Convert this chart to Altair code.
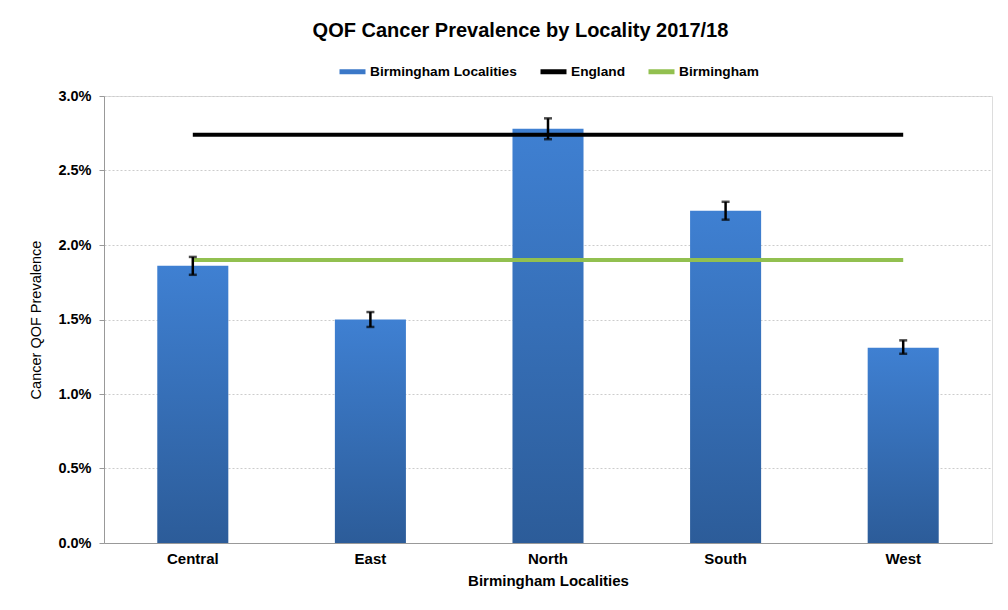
import altair as alt
import pandas as pd

localities = ["Central", "East", "North", "South", "West"]
prevalence = [0.0186, 0.0150, 0.0278, 0.0223, 0.0131]
ci_low = [0.0180, 0.0145, 0.0271, 0.0217, 0.0127]
ci_high = [0.0192, 0.0155, 0.0285, 0.0229, 0.0136]
england_value = 0.0274
birmingham_value = 0.0190
series_names = ["Birmingham Localities", "England", "Birmingham"]
series_colors = ["#3b78c8", "#000000", "#92c050"]
y_ticks = [0, 0.005, 0.01, 0.015, 0.02, 0.025, 0.03]

FONT = "Liberation Sans"

bars_df = pd.DataFrame({"Locality": localities, "Prevalence": prevalence,
                        "Low": ci_low, "High": ci_high})
lines_df = pd.DataFrame({
    "Locality": localities * 2,
    "Value": [england_value] * len(localities) + [birmingham_value] * len(localities),
    "Series": ["England"] * len(localities) + ["Birmingham"] * len(localities),
})

x_enc = alt.X("Locality:N", sort=localities,
              scale=alt.Scale(paddingInner=0.6, paddingOuter=0.3),
              axis=alt.Axis(title="Birmingham Localities", labelAngle=0,
                            labelFont=FONT, labelFontSize=15, labelFontWeight="bold",
                            labelColor="black", labelPadding=8,
                            titleFont=FONT, titleFontSize=15, titleFontWeight="bold",
                            titleColor="black", titlePadding=7,
                            domainColor="#999999", ticks=False))
y_scale = alt.Scale(domain=[0, 0.03])

gradient = alt.LinearGradient(
    gradient="linear",
    stops=[alt.GradientStop(color="#3f80d2", offset=0),
           alt.GradientStop(color="#2c5c99", offset=1)],
    x1=0, x2=0, y1=0, y2=1)

bars = alt.Chart(bars_df).mark_bar(color=gradient).encode(
    x=x_enc,
    y=alt.Y("Prevalence:Q", scale=y_scale,
            axis=alt.Axis(title="Cancer QOF Prevalence", format=".1%", values=y_ticks,
                          labelFont=FONT, labelFontSize=14.5, labelFontWeight="bold",
                          labelColor="black", labelPadding=8,
                          titleFont=FONT, titleFontSize=14.5, titleFontWeight="normal",
                          titleColor="black", titlePadding=14,
                          domainColor="#999999", tickColor="#999999", tickSize=5,
                          grid=True, gridColor="#cccccc", gridDash=[2, 2])),
)

lines = alt.Chart(lines_df).mark_line(strokeWidth=4).encode(
    x=alt.X("Locality:N", sort=localities),
    y=alt.Y("Value:Q", scale=y_scale),
    color=alt.Color("Series:N",
                    scale=alt.Scale(domain=series_names, range=series_colors),
                    legend=alt.Legend(title=None, orient="none", direction="horizontal",
                                      legendX=233, legendY=-40,
                                      symbolType="stroke", symbolStrokeWidth=5,
                                      symbolSize=676, labelFont=FONT, labelFontSize=13.7,
                                      labelFontWeight="bold", labelColor="black",
                                      labelOffset=2, columnPadding=13)),
    detail="Series:N",
)

err_rule = alt.Chart(bars_df).mark_rule(color="black", strokeWidth=2.5).encode(
    x=alt.X("Locality:N", sort=localities),
    y=alt.Y("Low:Q", scale=y_scale),
    y2="High:Q",
)
err_low = alt.Chart(bars_df).mark_tick(color="black", size=8, thickness=2.5).encode(
    x=alt.X("Locality:N", sort=localities),
    y=alt.Y("Low:Q", scale=y_scale),
)
err_high = alt.Chart(bars_df).mark_tick(color="black", size=8, thickness=2.5).encode(
    x=alt.X("Locality:N", sort=localities),
    y=alt.Y("High:Q", scale=y_scale),
)

chart = alt.layer(bars, lines, err_rule, err_low, err_high).properties(
    width=888, height=447,
    padding={"left": 20, "top": 13, "right": 5, "bottom": 5},
    title=alt.TitleParams("QOF Cancer Prevalence by Locality 2017/18",
                          font=FONT, fontSize=20, fontWeight="bold",
                          color="black", anchor="middle", frame="bounds",
                          offset=15, dx=10),
).configure_view(stroke=None).configure(background="white")

chart.save("out.html", embed_options={"renderer": "svg", "actions": False})
